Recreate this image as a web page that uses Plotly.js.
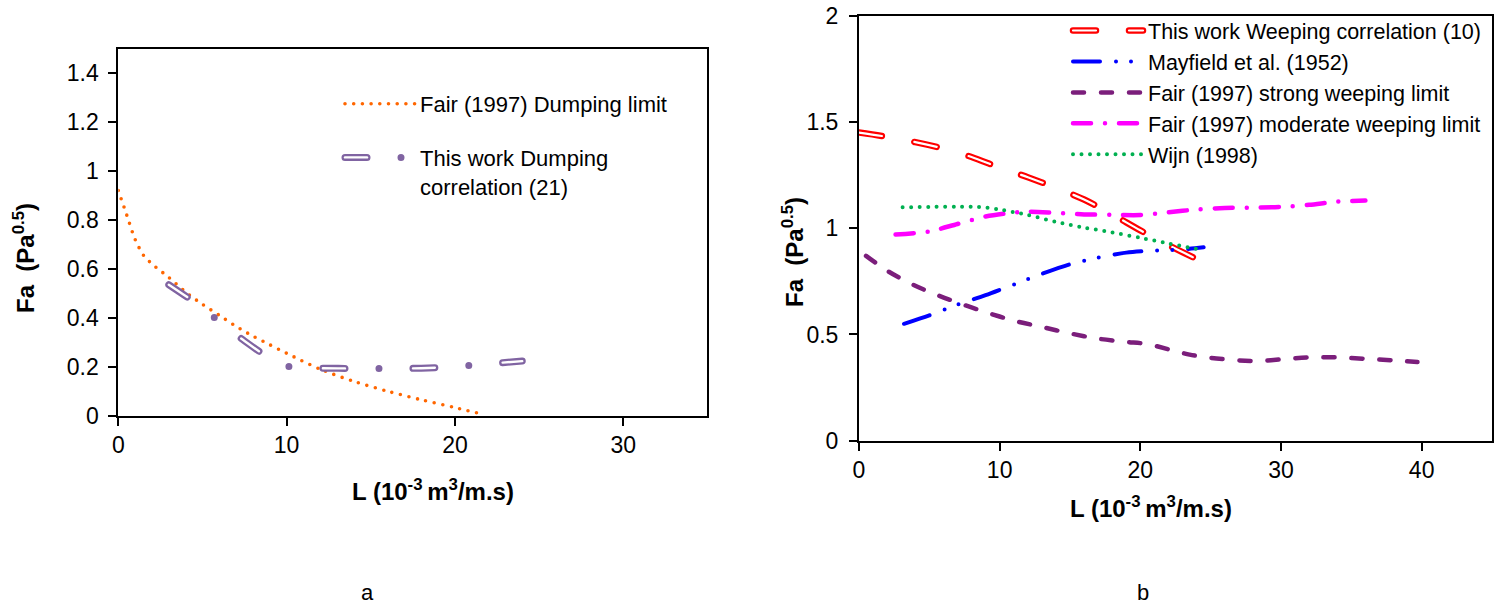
<!DOCTYPE html>
<html>
<head>
<meta charset="utf-8">
<script src="https://cdn.plot.ly/plotly-3.0.1.min.js"></script>
<style>
    body { margin: 0; background: #fff; }
    /* Excel draws dash ends round */
    .js-line { stroke-linecap: round; }
</style>
</head>
<body>
<div id="chart"></div>
<script>
// ==== DATA ==================================================================

// (a) Fair (1997) dumping limit.
const fairDumpL = [0, 0.5, 1, 1.5, 2, 3, 4, 5, 6, 7, 8, 9, 10, 12, 14, 16, 18, 20, 21.4];
const fairDumpFa = [0.92, 0.82, 0.72, 0.655, 0.62, 0.565, 0.505, 0.455, 0.41, 0.365, 0.325, 0.29, 0.255, 0.19, 0.14, 0.1, 0.065, 0.033, 0.01];

// (a) This work, dumping correlation (21).
const dumpCorrL = [3, 4.5, 6, 7.5, 9, 10, 11, 12, 14, 16, 18, 20, 22, 24];
const dumpCorrFa = [0.535, 0.465, 0.385, 0.305, 0.235, 0.203, 0.195, 0.194, 0.193, 0.193, 0.194, 0.2, 0.212, 0.223];

// (b) This work, weeping correlation (10).
const weepCorrL = [0, 2, 4, 6, 8, 10, 12, 14, 16, 18, 20, 22, 24];
const weepCorrFa = [1.45, 1.43, 1.405, 1.375, 1.335, 1.285, 1.24, 1.19, 1.135, 1.065, 0.99, 0.92, 0.855];

// (b) Mayfield et al. (1952).
const mayfieldL = [3.2, 5, 7, 9, 11, 13, 15, 17, 19, 21, 23, 24.5];
const mayfieldFa = [0.55, 0.59, 0.64, 0.685, 0.735, 0.785, 0.83, 0.862, 0.885, 0.895, 0.9, 0.91];

// (b) Fair (1997) strong weeping limit.
const fairStrongL = [0.5, 2, 3.5, 5, 7, 9, 11, 13, 15, 17, 19, 20.5, 22, 23.5, 25, 27, 28.5, 30, 32, 34, 36, 38, 39.7];
const fairStrongFa = [0.87, 0.8, 0.745, 0.7, 0.65, 0.605, 0.565, 0.535, 0.505, 0.48, 0.465, 0.455, 0.43, 0.405, 0.39, 0.378, 0.375, 0.383, 0.392, 0.392, 0.385, 0.378, 0.37];

// (b) Fair (1997) moderate weeping limit.
const fairModL = [2.6, 5, 7, 9, 10.5, 12, 14, 16, 18, 20, 22, 24, 26, 28, 30, 32, 34, 36];
const fairModFa = [0.97, 0.985, 1.02, 1.055, 1.07, 1.078, 1.072, 1.065, 1.063, 1.062, 1.075, 1.088, 1.095, 1.097, 1.1, 1.11, 1.125, 1.13];

// (b) Wijn (1998).
const wijnL = [3.1, 5, 7, 8.5, 10, 12, 14, 16, 18, 20, 22, 24.2];
const wijnFa = [1.098, 1.1, 1.101, 1.1, 1.088, 1.062, 1.03, 1.003, 0.98, 0.955, 0.928, 0.9];

// ==== HELPERS ===============================================================

const W = 1506;
const H = 609;
// Pixel position of the picture -> paper coordinates.
const px = (x) => x / W;
const py = (y) => 1 - y / H;

// One smoothed line trace.
function line(x, y, name, color, width, dash, axes, legend, show = true) {
    return {
        x: x,
        y: y,
        name: name,
        type: "scatter",
        mode: "lines",
        line: { color: color, width: width, dash: dash, shape: "spline", smoothing: 0.8 },
        xaxis: axes[0],
        yaxis: axes[1],
        legend: legend,
        legendgroup: name,
        showlegend: show,
        hoverinfo: "skip",
    };
}

// ==== TRACES ================================================================

const A = ["x", "y"];
const B = ["x2", "y2"];

// White cores of the hollow ("double") dashes, by trace name.
const hollow = {
    "This work Dumping<br>correlation (21)": { width: 2.4, dash: "22px,68px" },
    "This work Weeping correlation (10)": { width: 2.2, dash: "23px,33px" },
};

const traces = [
    line(fairDumpL, fairDumpFa, "Fair (1997) Dumping limit", "#FF6600", 3.6, "0px,8.7px", A, "legend"),
    line(dumpCorrL, dumpCorrFa, "This work Dumping<br>correlation (21)", "#8064A2", 7, "22px,34px,0px,34px", A, "legend"),
    line(dumpCorrL, dumpCorrFa, "core a", "#FFFFFF", 2.4, "22px,68px", A, "legend", false),

    line(weepCorrL, weepCorrFa, "This work Weeping correlation (10)", "#FF0000", 6.5, "23px,33px", B, "legend2"),
    line(weepCorrL, weepCorrFa, "core b", "#FFFFFF", 2.2, "23px,33px", B, "legend2", false),
    line(mayfieldL, mayfieldFa, "Mayfield et al. (1952)", "#0000FF", 4, "27px,16px,0px,15px,0px,16px", B, "legend2"),
    line(fairStrongL, fairStrongFa, "Fair (1997) strong weeping limit", "#7B1E7B", 4.5, "11px,17px", B, "legend2"),
    line(fairModL, fairModFa, "Fair (1997) moderate weeping limit", "#FF00FF", 4.5, "18px,14px,0px,14px", B, "legend2"),
    line(wijnL, wijnFa, "Wijn (1998)", "#00B050", 4, "0px,8.5px", B, "legend2"),
];

// ==== LAYOUT ================================================================

const axisStyle = {
    showline: true,
    linecolor: "#000",
    linewidth: 2,
    mirror: true,
    ticks: "outside",
    ticklen: 8,
    tickwidth: 2,
    tickcolor: "#000",
    tickfont: { size: 23 },
    showgrid: false,
    zeroline: false,
    fixedrange: true,
};

const legendStyle = {
    xanchor: "left",
    yanchor: "top",
    bgcolor: "rgba(0,0,0,0)",
    font: { size: 22, color: "#000" },
    traceorder: "grouped",
    itemwidth: 70,
    valign: "top",
};

const titleFont = { size: 24, color: "#000" };

const layout = {
    width: W,
    height: H,
    margin: { l: 0, r: 0, t: 0, b: 0 },
    paper_bgcolor: "#fff",
    plot_bgcolor: "#fff",
    font: { family: "Liberation Sans, Arial, sans-serif", size: 22, color: "#000" },
    xaxis: { ...axisStyle, domain: [px(118.3), px(707.4)], range: [0, 35], tick0: 0, dtick: 10, anchor: "y" },
    yaxis: { ...axisStyle, domain: [py(415.7), py(48.5)], range: [0, 1.5], tick0: 0, dtick: 0.2, anchor: "x", ticklabelstandoff: 5 },
    xaxis2: { ...axisStyle, domain: [px(859), px(1492)], range: [0, 45], tick0: 0, dtick: 10, anchor: "y2" },
    yaxis2: { ...axisStyle, domain: [py(440.7), py(15.7)], range: [0, 2], tick0: 0, dtick: 0.5, anchor: "x2", ticklabelstandoff: 6 },
    legend: { ...legendStyle, x: px(340), y: py(83), tracegroupgap: 22 },
    legend2: { ...legendStyle, x: px(1068), y: py(10), tracegroupgap: 0, font: { size: 21.5, color: "#000" } },
    annotations: [
        // axis titles and panel letters
        { text: "<b>L (10<sup>-3 </sup>m<sup>3</sup>/m.s)</b>", x: px(433), y: py(490), font: titleFont },
        { text: "<b>Fa  (Pa<sup>0.5</sup>)</b>", x: px(24), y: py(258), textangle: -90, font: titleFont },
        { text: "<b>L (10<sup>-3 </sup>m<sup>3</sup>/m.s)</b>", x: px(1151), y: py(507), font: titleFont },
        { text: "<b>Fa  (Pa<sup>0.5</sup>)</b>", x: px(793), y: py(252), textangle: -90, font: titleFont },
        { text: "a", x: px(367), y: py(592), font: { size: 22 } },
        { text: "b", x: px(1143), y: py(592), font: { size: 22 } },
    ].map((a) => ({ ...a, xref: "paper", yref: "paper", showarrow: false, xanchor: "center", yanchor: "middle" })),
};

// ==== DRAW ==================================================================

Plotly.newPlot("chart", traces, layout, { staticPlot: true }).then((gd) => {
    // The legend samples of the hollow lines get the same white core.
    gd.querySelectorAll(".infolayer g.traces").forEach((item) => {
        const name = item.__data__ && item.__data__[0] && item.__data__[0].trace.name;
        const core = hollow[name];
        const path = item.querySelector(".legendlines path");
        if (!core || !path) {
            return;
        }
        const copy = path.cloneNode();
        copy.style.stroke = "#fff";
        copy.style.strokeWidth = core.width + "px";
        copy.style.strokeDasharray = core.dash;
        path.parentNode.appendChild(copy);
    });
});
</script>
</body>
</html>
